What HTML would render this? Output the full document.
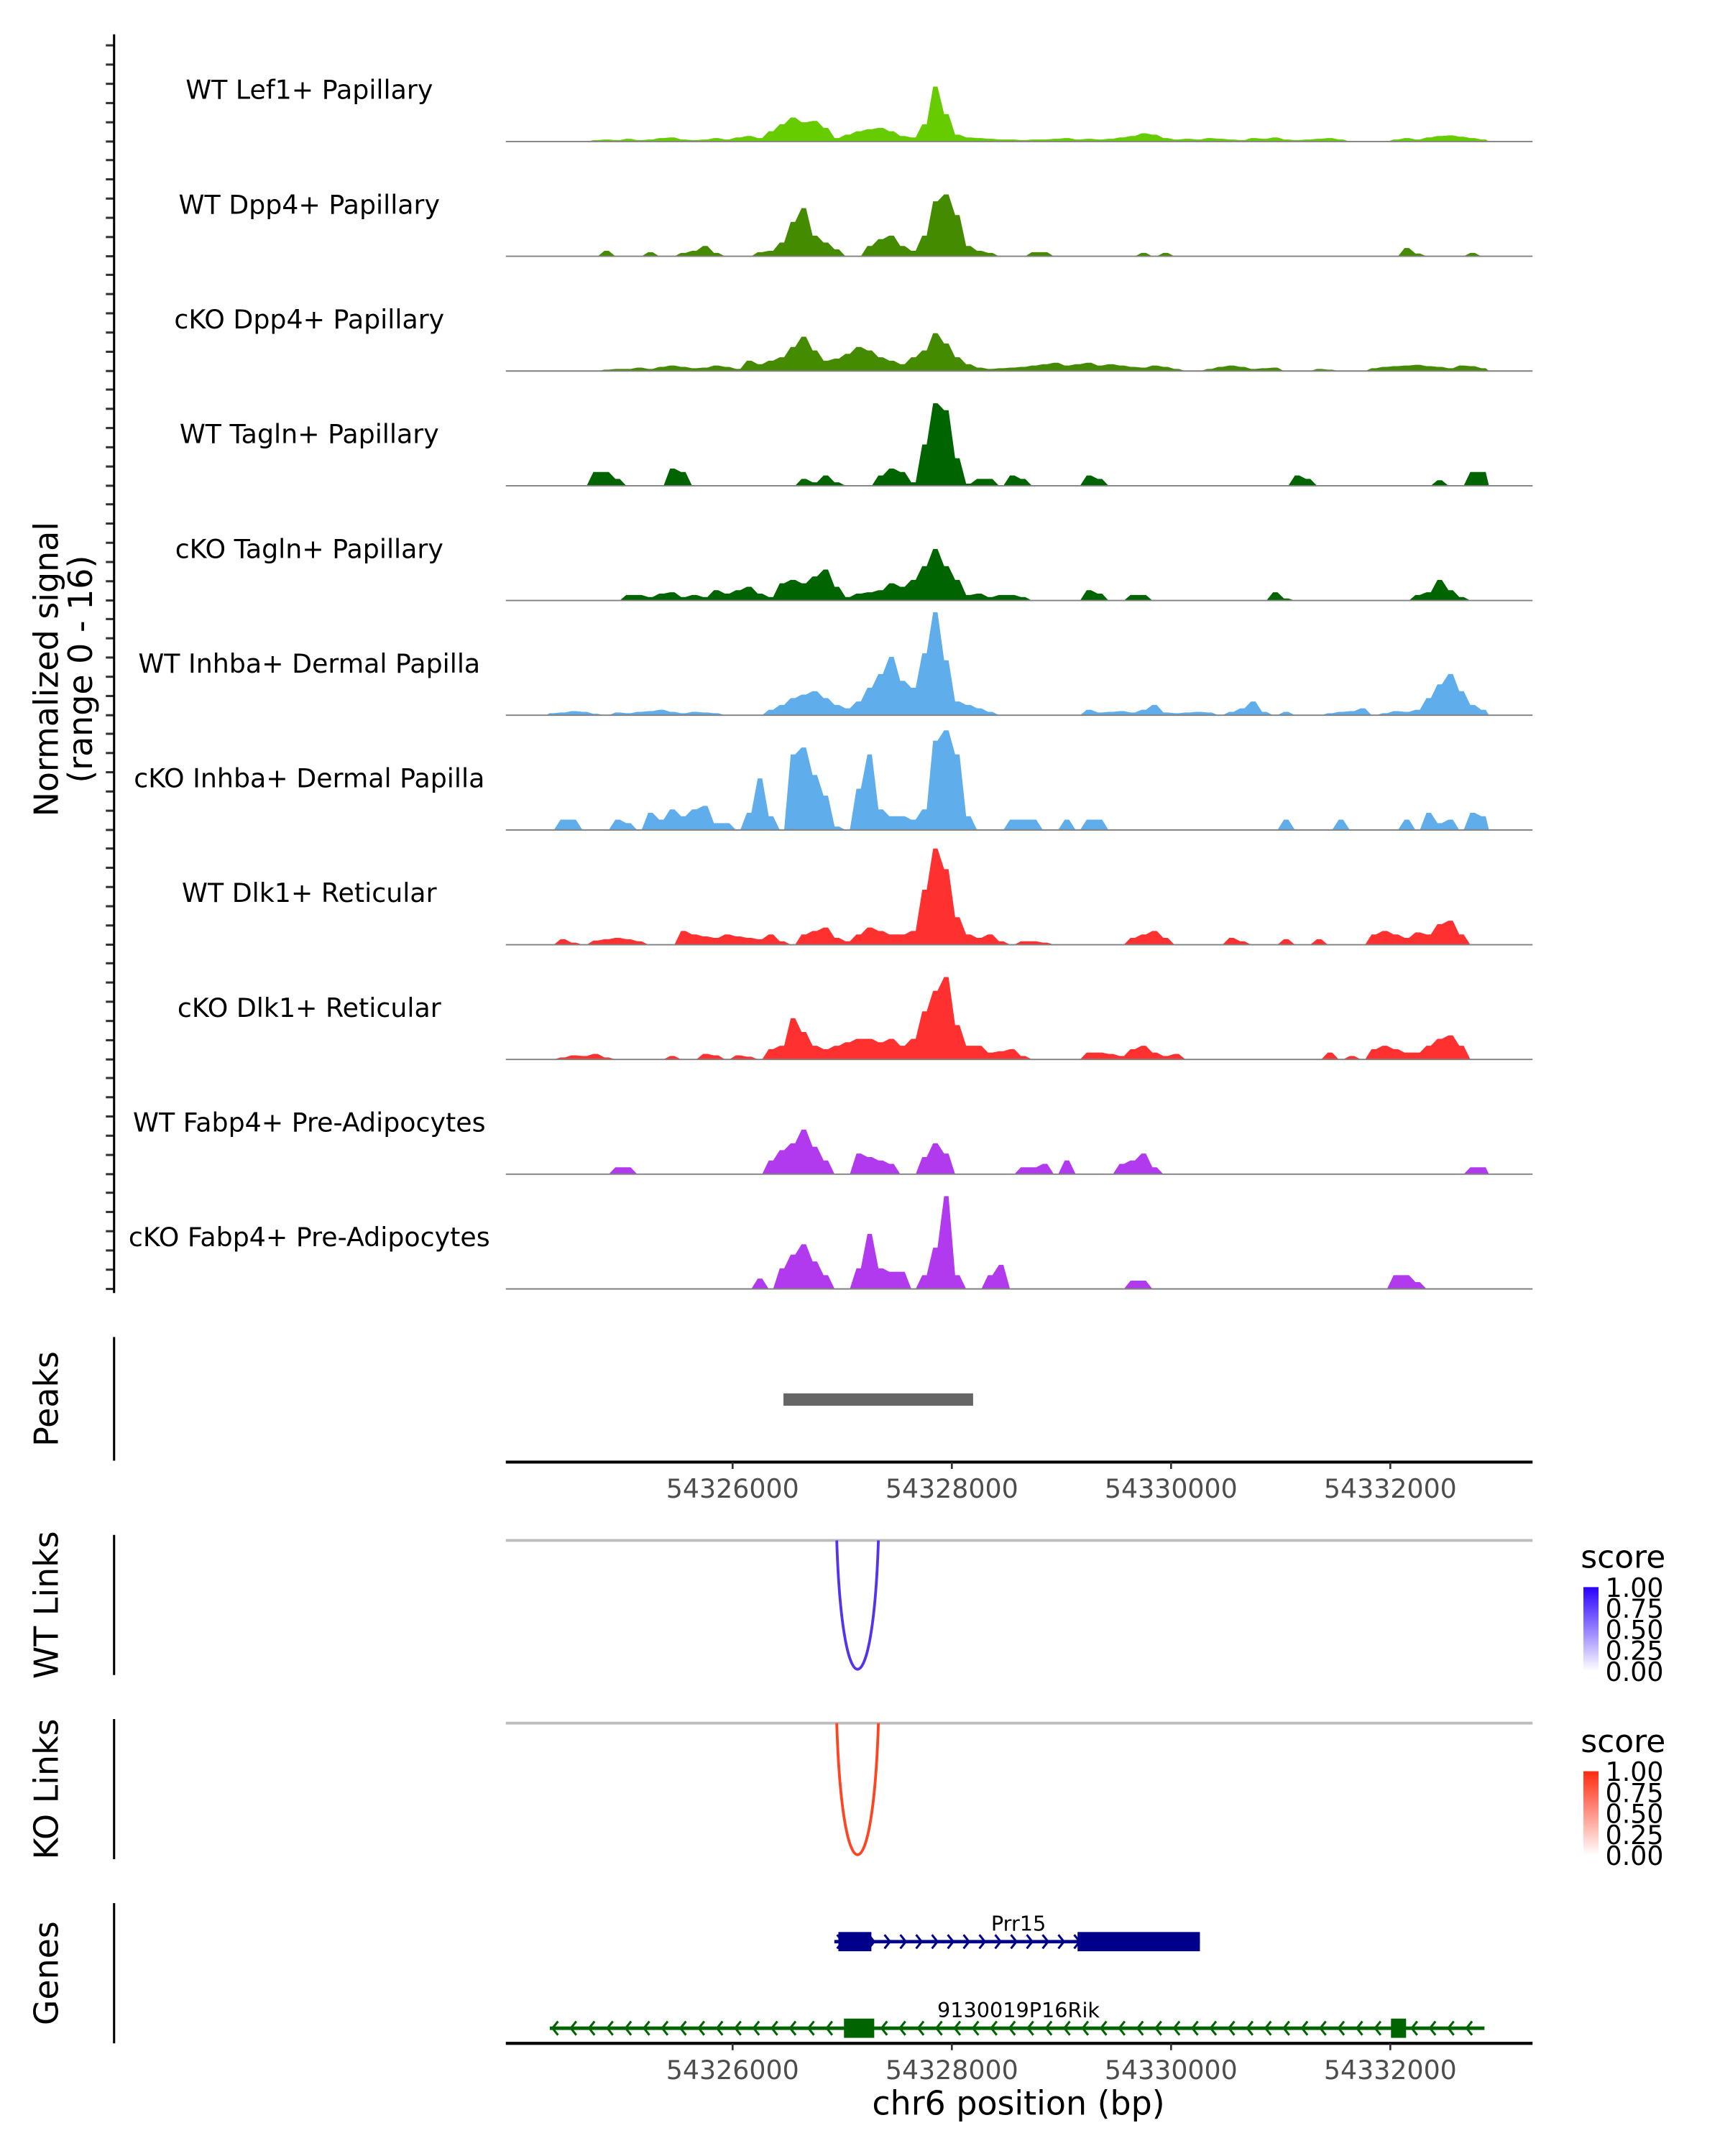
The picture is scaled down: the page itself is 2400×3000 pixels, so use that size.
<!DOCTYPE html>
<html><head><meta charset="utf-8"><title>Coverage plot</title>
<style>html,body{margin:0;padding:0;background:#fff}svg{display:block}text{font-family:"DejaVu Sans","Liberation Sans",sans-serif}</style>
</head><body>
<svg id="chart" width="2400" height="3000" viewBox="0 0 1255 1569" preserveAspectRatio="none" xmlns="http://www.w3.org/2000/svg">
<defs>
<linearGradient id="gblue" x1="0" y1="1" x2="0" y2="0"><stop offset="0" stop-color="#ffffff"/><stop offset="1" stop-color="#2a00ff"/></linearGradient>
<linearGradient id="gred" x1="0" y1="1" x2="0" y2="0"><stop offset="0" stop-color="#ffffff"/><stop offset="1" stop-color="#ff2a10"/></linearGradient>
</defs>
<g id="tracks"></g>
<g id="static">
<line x1="83" y1="25" x2="83" y2="941" stroke="#000" stroke-width="1.6"/>
<text transform="translate(42,487) rotate(-90)" text-anchor="middle" font-size="24">Normalized signal</text>
<text transform="translate(67,487) rotate(-90)" text-anchor="middle" font-size="24">(range 0 - 16)</text>
<line x1="83" y1="973" x2="83" y2="1063" stroke="#000" stroke-width="1.6"/>
<text transform="translate(42,1018) rotate(-90)" text-anchor="middle" font-size="24">Peaks</text>
<line x1="83" y1="1117" x2="83" y2="1219" stroke="#000" stroke-width="1.6"/>
<text transform="translate(42,1168) rotate(-90)" text-anchor="middle" font-size="24">WT Links</text>
<line x1="83" y1="1251" x2="83" y2="1353" stroke="#000" stroke-width="1.6"/>
<text transform="translate(42,1302) rotate(-90)" text-anchor="middle" font-size="24">KO Links</text>
<line x1="83" y1="1385" x2="83" y2="1487" stroke="#000" stroke-width="1.6"/>
<text transform="translate(42,1436) rotate(-90)" text-anchor="middle" font-size="24">Genes</text>
<line x1="368" y1="1121" x2="1115" y2="1121" stroke="#bdbdbd" stroke-width="2"/>
<line x1="368" y1="1254" x2="1115" y2="1254" stroke="#bdbdbd" stroke-width="2"/>
<text x="1150" y="1141" font-size="23">score</text>
<rect x="1152" y="1155" width="11" height="61" fill="url(#gblue)"/>
<text x="1150" y="1275" font-size="23">score</text>
<rect x="1152" y="1289" width="11" height="61" fill="url(#gred)"/>
<text x="741" y="1539" text-anchor="middle" font-size="24">chr6 position (bp)</text>
</g>
<g id="dyn"></g>
</svg>
<script>
const NS='http://www.w3.org/2000/svg';
const binStart=54324300, binSize=100;
const trackNames=["WT Lef1+ Papillary","WT Dpp4+ Papillary","cKO Dpp4+ Papillary","WT Tagln+ Papillary","cKO Tagln+ Papillary","WT Inhba+ Dermal Papilla","cKO Inhba+ Dermal Papilla","WT Dlk1+ Reticular","cKO Dlk1+ Reticular","WT Fabp4+ Pre-Adipocytes","cKO Fabp4+ Pre-Adipocytes"];
const trackColors=["#66cc00","#458b00","#458b00","#006400","#006400","#5fadea","#5fadea","#ff3030","#ff3030","#b23aee","#b23aee"];
const lef1WT=[0,0,0,0,0.2,0.3,0.2,0.4,0.2,0.3,0.5,0.6,0.3,0.2,0.3,0.5,0.3,0.6,0.8,0.5,1.5,2.5,3.5,2.8,3.0,2,0.5,1,1.5,1.8,2,1.5,0.8,0.6,2.5,8,4,1,0.6,0.5,0.4,0.3,0.3,0.2,0.3,0.3,0.4,0.5,0.3,0.4,0.3,0.4,0.6,0.8,1.2,1.0,0.5,0.3,0.4,0.3,0.5,0.4,0.3,0.2,0.5,0.4,0.6,0.3,0.2,0.3,0.4,0.5,0.3,0,0,0,0,0.3,0.5,0.3,0.6,0.8,0.9,0.7,0.5,0.3];
const dpp4WT=[0,0,0,0,0,0.8,0,0,0,0.6,0,0,0.5,0.8,1.5,0.5,0,0,0,0.6,0.8,2,5,7,3,2,1,0,0,1.5,2.5,3,1.5,0.8,3,8,9,6,1.5,0.8,0.5,0,0,0,0.6,0.6,0,0,0,0,0,0,0,0,0.5,0,0.5,0,0,0,0,0,0,0,0,0,0,0,0,0,0,0,0,0,0,0,0,0,1.2,0.4,0,0,0,0,0.5,0];
const dpp4KO=[0,0,0,0,0,0.2,0.3,0.3,0.5,0.3,0.6,0.8,0.6,0.4,0.5,0.8,0.6,0.3,1.5,1,1.5,2,3.5,5,3,1.5,1.8,2.5,3.5,3,2,1.5,1,2,3,5.5,4,2,1,0.5,0.3,0.4,0.5,0.6,0.8,1,1.2,0.8,1,1.2,0.8,1,0.8,0.6,0.5,0.8,0.6,0.3,0,0,0.3,0.6,0.8,0.6,0.3,0.4,0.5,0,0,0,0.3,0.2,0,0,0,0.4,0.6,0.7,0.8,0.9,0.7,0.6,0.4,0.8,0.7,0.4];
const taglnWT=[0,0,0,0,2,2,1,0,0,0,0,2.5,2,0,0,0,0,0,0,0,0,0,0,1,0.5,1.5,0.5,0,0,0,1.5,2.5,2,0.5,6,12,11,4,0.3,1,1,0,1.5,1,0,0,0,0,0,1.5,1,0,0,0,0,0,0,0,0,0,0,0,0,0,0,0,0,0,1.5,1,0,0,0,0,0,0,0,0,0,0,0,0.8,0,0,2,2];
const taglnKO=[0,0,0,0,0,0,0,0.8,0.8,0.5,1,1.2,0.5,0.8,0.5,1.5,1,1.5,2,1,0.5,2.5,3,2.5,3.5,4.5,2,0.5,1,1.2,1.5,2.5,2,3,5,7.5,5,3,0.8,1,0.5,0.8,0.8,0.5,0,0,0,0,0,1.5,1,0,0,0.8,0.8,0,0,0,0,0,0,0,0,0,0,0,1.2,0.3,0,0,0,0,0,0,0,0,0,0,0,0.8,1.2,3,1.5,0.5,0,0];
const inhbaWT=[0.3,0.4,0.6,0.5,0.2,0,0.4,0.3,0.5,0.6,0.8,0.5,0.3,0.5,0.4,0.3,0,0,0,0,0.8,1.5,2.5,3,3.5,2.5,1.5,1,2,4,6,8.5,5,4,9,15,8,2,1.5,1,0.5,0,0,0,0,0,0,0,0,0.8,0.4,0.5,0.6,0.4,0.8,1.5,0.4,0.3,0.4,0.5,0.4,0,0.5,1,2,0.5,0,0.5,0,0,0,0.3,0.5,0.6,1,0,0.3,0.6,0.5,0.8,2.5,4.5,6,3.5,1.5,0.8];
const inhbaKO=[0,1.5,1.5,0,0,0,1.5,1,0,2.5,1.5,3,2,3,3.5,1,1,0,2.5,7.5,2,0,11,12,8,5,0.5,0,6,11,3,2,2,1.5,3,13,14.5,11,2,0,0,0,1.5,1.5,1.5,0,0,1.5,0,1.5,1.5,0,0,0,0,0,0,0,0,0,0,0,0,0,0,0,0,1.5,0,0,0,0,1.5,0,0,0,0,0,1.5,0,2.5,1,1.5,0,2.5,2];
const dlk1WT=[0,0.8,0.3,0,0.6,0.8,1,0.8,0.5,0,0,0,2,1.5,1.2,1,1.5,1.2,1,0.8,1.5,0.5,0,1.5,2,2.5,1,0.5,1.5,2.5,2,1.5,1.5,2,8,14,11,4,1.5,1,1.5,0.5,0,0.5,0.5,0.3,0,0,0,0,0,0,0,1,1.5,2,1,0,0,0,0,0,1,0.5,0,0,0,0.8,0,0,0.8,0,0,0,0,1.5,2,1.5,1,1.8,1.5,3,3.5,1.5,0,0];
const dlk1KO=[0,0.3,0.6,0.5,0.8,0.3,0,0,0,0,0,0.5,0,0,0.8,0.6,0,0.6,0.4,0,1.5,2,6,4,2,1.5,2,2.5,3,3,2.5,3,2,3,7,10,12,5,2,2,1,1.2,1.5,0.5,0,0,0,0,0,1,1,0.8,0.5,1.5,2,1,0.5,0.8,0,0,0,0,0,0,0,0,0,0,0,0,0,1,0,0.5,0,1.5,2,1.5,1,1,2,3,3.5,2,0,0];
const fabp4WT=[0,0,0,0,0,0,1,1,0,0,0,0,0,0,0,0,0,0,0,0,2,3.5,4.5,6.5,4,2,0,0,3,2.5,2,1.5,0,0,2.5,4.5,3,0,0,0,0,0,0,1,1,1.5,0,2,0,0,0,0,1.5,2,3,1,0,0,0,0,0,0,0,0,0,0,0,0,0,0,0,0,0,0,0,0,0,0,0,0,0,0,0,0,1,1];
const fabp4KO=[0,0,0,0,0,0,0,0,0,0,0,0,0,0,0,0,0,0,0,1.5,0,3,5,6.5,4,2,0,0,3,8,3,2.5,2.5,0,2,6,13.5,2,0,0,2,3.5,0,0,0,0,0,0,0,0,0,0,0,1.2,1.2,0,0,0,0,0,0,0,0,0,0,0,0,0,0,0,0,0,0,0,0,0,0,2,2,1,0,0,0,0,0,0];
const trackValues=[lef1WT,dpp4WT,dpp4KO,taglnWT,taglnKO,inhbaWT,inhbaKO,dlk1WT,dlk1KO,fabp4WT,fabp4KO];
const xTicks=[54326000,54328000,54330000,54332000];
const peakRegion=[54326464,54328194];
const wtLink=[54326950,54327330], koLink=[54326950,54327330];
const legendTicks=["1.00","0.75","0.50","0.25","0.00"];
const prr15Span=[54326928,54330263], prr15Exons=[[54326965,54327266],[54329147,54330263]];
const rikSpan=[54324332,54332859], rikExons=[[54327016,54327292],[54332006,54332144]];

const xScale=bp=>533+(bp-54326000)*0.07975;
const trackTop=i=>20+i*83.5, trackBase=i=>103+i*83.5;
const yScale=(v,i)=>trackBase(i)-v*80/16;
const tracks=document.getElementById('tracks'), dyn=document.getElementById('dyn');
function mk(tag,parent){const e=document.createElementNS(NS,tag);parent.appendChild(e);return e;}

trackValues.forEach((vals,i)=>{
  const g=mk('g',tracks);
  
  
  let pts=[];
  vals.forEach((v,j)=>{
    const x0=xScale(binStart+j*binSize), x1=xScale(binStart+(j+1)*binSize);
    const y=yScale(v,i).toFixed(1);
    pts.push((x0+(x1-x0)*0.3).toFixed(1)+','+y);
    pts.push((x0+(x1-x0)*0.7).toFixed(1)+','+y);
  });
  const xe=xScale(binStart+vals.length*binSize);
  const poly=mk('polygon',g);
  
  
  poly.setAttribute('points',xScale(binStart)+','+trackBase(i)+' '+pts.join(' ')+' '+xe+','+trackBase(i));
  poly.setAttribute('fill',trackColors[i]);
  const bl=mk('line',g);
  
  
  bl.setAttribute('x1',368);bl.setAttribute('x2',1115);bl.setAttribute('y1',trackBase(i));bl.setAttribute('y2',trackBase(i));
  bl.setAttribute('stroke','#808080');bl.setAttribute('stroke-width','1');
  const t=mk('text',g);
  
  
  t.setAttribute('x',225);t.setAttribute('y',trackBase(i)-31);t.setAttribute('text-anchor','middle');t.setAttribute('font-size','19');
  t.textContent=trackNames[i];
  for(let k=0;k<6;k++){
    const tk=mk('line',g);
    
    
    const y=trackTop(i)+13+k*14;
    tk.setAttribute('x1',77);tk.setAttribute('x2',83);tk.setAttribute('y1',y);tk.setAttribute('y2',y);
    tk.setAttribute('stroke','#333');tk.setAttribute('stroke-width','1.6');
  }
});

const pk=mk('rect',dyn);


pk.setAttribute('x',xScale(peakRegion[0]));pk.setAttribute('y',1014);pk.setAttribute('width',xScale(peakRegion[1])-xScale(peakRegion[0]));pk.setAttribute('height',9);pk.setAttribute('fill','#666');

[1064,1487].forEach((ay,a)=>{
  const ax=mk('line',dyn);
  
  
  ax.setAttribute('x1',368);ax.setAttribute('x2',1115);ax.setAttribute('y1',ay);ax.setAttribute('y2',ay);ax.setAttribute('stroke','#000');ax.setAttribute('stroke-width','2.2');
  xTicks.forEach(v=>{
    const tk=mk('line',dyn);
    
    
    tk.setAttribute('x1',xScale(v));tk.setAttribute('x2',xScale(v));tk.setAttribute('y1',ay);tk.setAttribute('y2',ay+5);tk.setAttribute('stroke','#333');tk.setAttribute('stroke-width','1.4');
    const tl=mk('text',dyn);
    
    
    tl.setAttribute('x',xScale(v));tl.setAttribute('y',ay+26);tl.setAttribute('text-anchor','middle');tl.setAttribute('font-size','19');tl.setAttribute('fill','#4d4d4d');
    tl.textContent=v;
  });
});

function arc(span,base,depth,color,name){
  const a=xScale(span[0]),b=xScale(span[1]);
  const p=mk('path',dyn);
  
  
  p.setAttribute('d',`M${a} ${base} C${a+4} ${base+depth*1.33},${b-4} ${base+depth*1.33},${b} ${base}`);
  p.setAttribute('fill','none');p.setAttribute('stroke',color);p.setAttribute('stroke-width','2');
}
arc(wtLink,1121,94,'#5533ee','wt-link-arc');
arc(koLink,1254,96,'#ff4422','ko-link-arc');

[1155,1289].forEach(y0=>{
  legendTicks.forEach((s,k)=>{
    const t=mk('text',dyn);
    
    
    t.setAttribute('x',1168);t.setAttribute('y',y0+7+k*15.3);t.setAttribute('font-size','19');
    t.textContent=s;
  });
});

function gene(span,exons,y,color,dir,label,step,name){
  const g=mk('g',dyn);
  
  
  const l=mk('line',g);
  
  
  l.setAttribute('x1',xScale(span[0]));l.setAttribute('x2',xScale(span[1]));l.setAttribute('y1',y);l.setAttribute('y2',y);l.setAttribute('stroke',color);l.setAttribute('stroke-width','2.5');
  for(let x=xScale(span[0])+4;x<xScale(span[1])-4;x+=step){
    const c=mk('path',g);
    
    
    c.setAttribute('d',dir>0?`M${x-2} ${y-5} L${x+2} ${y} L${x-2} ${y+5}`:`M${x+2} ${y-5} L${x-2} ${y} L${x+2} ${y+5}`);
    c.setAttribute('fill','none');c.setAttribute('stroke',color);c.setAttribute('stroke-width','1.6');
  }
  exons.forEach(e=>{
    const r=mk('rect',g);
    
    
    r.setAttribute('x',xScale(e[0]));r.setAttribute('y',y-7);r.setAttribute('width',xScale(e[1])-xScale(e[0]));r.setAttribute('height',14);r.setAttribute('fill',color);
  });
  const t=mk('text',g);
  
  
  t.setAttribute('x',741);t.setAttribute('y',y-8);t.setAttribute('text-anchor','middle');t.setAttribute('font-size','15');
  t.textContent=label;
}
gene(prr15Span,prr15Exons,1413,'#00008b',1,'Prr15',11.5,'gene-prr15');
gene(rikSpan,rikExons,1476,'#006400',-1,'9130019P16Rik',13.3,'gene-9130019p16rik');
</script>
</body></html>
